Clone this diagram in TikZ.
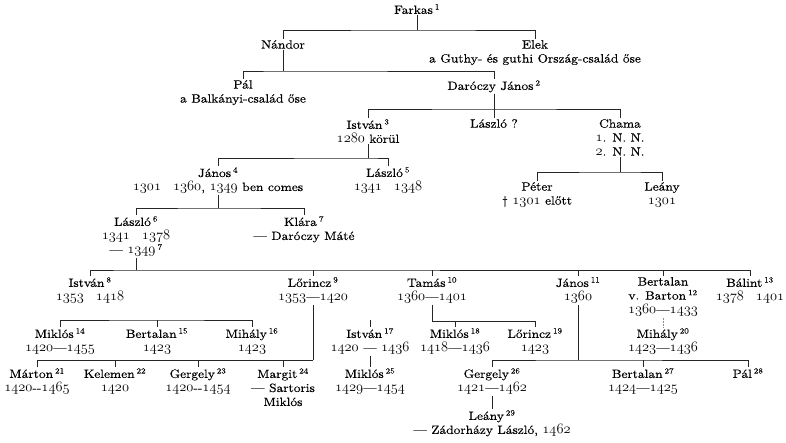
\documentclass[tikz,border=0pt]{standalone}
\usepackage{fontspec}
\setmainfont{lmroman10-regular.otf}[FakeStretch=1.12,FakeBold=0.3]
\usepackage{tikz}
\usetikzlibrary{calc}
\newcommand\rf[1]{\,\textsuperscript{#1}}
\newcommand\os[1]{{\fontencoding{OML}\fontfamily{lmr}\fontseries{m}\fontshape{it}\fontsize{13.5}{14}\selectfont #1}}
\tikzset{
  person/.style={anchor=north, align=center, inner sep=1pt, font=\fontsize{12}{14}\selectfont},
  tie/.style={draw=black!85, line width=0.85pt},
  faint/.style={draw=black!45, line width=0.5pt, densely dotted}
}

\begin{document}
\begin{tikzpicture}[x=1pt,y=-1pt]
  \fill[white] (0,0) rectangle (786,443);
  \useasboundingbox (0,0) rectangle (786,443);

  % first generations
  \node[person] (farkas) at (417,3) {Farkas\rf{1}};
  \node[person] (nandor) at (283,39) {Nándor};
  \node[person] (elek) at (535,39) {Elek\\a Guthy- és guthi Ország-család őse};
  \node[person] (pal) at (243,79) {Pál\\a Balkányi-család őse};
  \node[person] (janos2) at (494,79) {Daróczy János\rf{2}};
  \node[person] (istvan3) at (368,118) {István\rf{3}\\\os{1280} körül};
  \node[person] (laszlo) at (494,118) {László ?};
  \node[person] (chama) at (620,118) {Chama\\\os{1}. N. N.\\\os{2}. N. N.};
  \node[person] (janos4) at (218,166) {János\rf{4}\\\os{1301}\quad\os{1360}, \os{1349} ben comes};
  \node[person] (laszlo5) at (388,166) {László\rf{5}\\\os{1341}\quad\os{1348}};
  \node[person] (peter) at (537,181) {Péter\\\textdagger\ \os{1301} előtt};
  \node[person] (leany) at (662,181) {Leány\\\os{1301}};
  \node[person] (laszlo6) at (136,215) {László\rf{6}\\\os{1341}\quad\os{1378}\\--- \os{1349}\rf{7}};
  \node[person] (klara) at (304,215) {Klára\rf{7}\\--- Daróczy Máté};

  % children of Laszlo 6
  \node[person] (istvan8) at (90,276) {István\rf{8}\\\os{1353}\quad\os{1418}};
  \node[person] (lorincz9) at (313,276) {Lőrincz\rf{9}\\\os{1353}---\os{1420}};
  \node[person] (tamas10) at (432,276) {Tamás\rf{10}\\\os{1360}---\os{1401}};
  \node[person] (janos11) at (578,276) {János\rf{11}\\\os{1360}};
  \node[person] (bertalan12) at (663,276) {Bertalan\\v. Barton\rf{12}\\\os{1360}---\os{1433}};
  \node[person] (balint13) at (750,276) {Bálint\rf{13}\\\os{1378}\quad\os{1401}};

  \node[person] (miklos14) at (60,327) {Miklós\rf{14}\\\os{1420}---\os{1455}};
  \node[person] (bertalan15) at (157,327) {Bertalan\rf{15}\\\os{1423}};
  \node[person] (mihaly16) at (252,327) {Mihály\rf{16}\\\os{1423}};
  \node[person] (istvan17) at (370,327) {István\rf{17}\\\os{1420} --- \os{1436}};
  \node[person] (miklos18) at (455,327) {Miklós\rf{18}\\\os{1418}---\os{1436}};
  \node[person] (lorincz19) at (535,327) {Lőrincz\rf{19}\\\os{1423}};
  \node[person] (mihaly20) at (663,327) {Mihály\rf{20}\\\os{1423}---\os{1436}};

  \node[person] (marton21) at (37,367) {Márton\rf{21}\\\os{1420}-{}-\os{1465}};
  \node[person] (kelemen22) at (115,367) {Kelemen\rf{22}\\\os{1420}};
  \node[person] (gergely23) at (198,367) {Gergely\rf{23}\\\os{1420}-{}-\os{1454}};
  \node[person] (margit24) at (283,367) {Margit\rf{24}\\--- Sartoris\\Miklós};
  \node[person] (miklos25) at (370,367) {Miklós\rf{25}\\\os{1429}---\os{1454}};
  \node[person] (gergely26) at (492,367) {Gergely\rf{26}\\\os{1421}---\os{1462}};
  \node[person] (bertalan27) at (643,367) {Bertalan\rf{27}\\\os{1424}---\os{1425}};
  \node[person] (pal28) at (748,367) {Pál\rf{28}};
  \node[person] (leany29) at (492,409) {Leány\rf{29}\\--- Zádorházy László, \os{1462}};

  % bars
  \coordinate (b1) at (417,30);
  \coordinate (b2) at (283,71);
  \coordinate (b3) at (494,109);
  \coordinate (b4) at (368,158);
  \coordinate (b5) at (620,172);
  \coordinate (b6) at (218,208);
  \coordinate (b7) at (136,270);
  \coordinate (b8) at (157,320);
  \coordinate (b9) at (313,360);
  \coordinate (b10) at (432,321);
  \coordinate (b11) at (578,360);
  \coordinate (s17) at (370,320);

  \draw[tie] (farkas) -- (b1);
  \draw[tie] (nandor.north) |- (b1) -| (elek.north);
  \draw[tie] (nandor) -- (b2);
  \draw[tie] (pal.north) |- (b2) -| (janos2.north);
  \draw[tie] (janos2) -- (b3);
  \draw[tie] (istvan3.north) |- (b3) -| (chama.north);
  \draw[tie] (b3) -- (laszlo.north);
  \draw[tie] (istvan3) -- (b4);
  \draw[tie] (janos4.north) |- (b4) -| (laszlo5.north);
  \draw[tie] (chama) -- (b5);
  \draw[tie] (peter.north) |- (b5) -| (leany.north);
  \draw[tie] (janos4) -- (b6);
  \draw[tie] (laszlo6.north) |- (b6) -| (klara.north);

  \draw[tie] (laszlo6) -- (b7);
  \draw[tie] (istvan8.north) |- (b7) -| (balint13.north);
  \foreach \n in {lorincz9,tamas10,janos11,bertalan12}
    \draw[tie] (\n.north |- b7) -- (\n.north);

  \draw[tie] (miklos14.north) |- (b8) -| (mihaly16.north);
  \draw[tie] (b8) -- (bertalan15.north);
  \draw[tie] (lorincz9) -- (b9);
  \draw[tie] (marton21.north) |- (b9);
  \foreach \n in {kelemen22,gergely23,margit24}
    \draw[tie] (\n.north |- b9) -- (\n.north);
  \draw[tie] (s17) -- (istvan17.north);
  \draw[tie] (istvan17) -- (miklos25);
  \draw[tie] (tamas10) -- (b10);
  \draw[tie] (b10) -| (lorincz19.north);
  \draw[tie] (miklos18.north |- b10) -- (miklos18.north);
  \draw[faint] (bertalan12) -- (mihaly20);
  \draw[tie] (janos11) -- (b11);
  \draw[tie] (gergely26.north) |- (b11) -| (pal28.north);
  \draw[tie] (bertalan27.north |- b11) -- (bertalan27.north);
  \draw[tie] (gergely26) -- (leany29);
\end{tikzpicture}
\end{document}
